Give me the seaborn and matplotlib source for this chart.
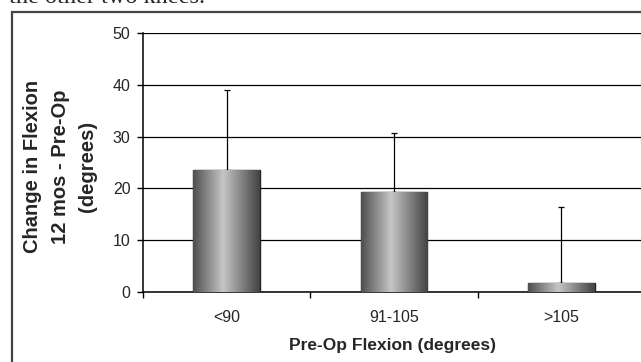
import numpy as np
import pandas as pd
import matplotlib
matplotlib.use("Agg")
import matplotlib.pyplot as plt
from matplotlib.colors import LinearSegmentedColormap
import seaborn as sns

# values
groups = ["<90", "91-105", ">105"]
mean_change = [23.6, 19.3, 1.8]
upper_err = [15.4, 11.3, 14.7]
y_ticks = [0, 10, 20, 30, 40, 50]


def gradient_bars(ax, cmap):
    grad = np.linspace(0, 1, 256).reshape(1, -1)
    for bar in ax.patches:
        x0, y0 = bar.get_x(), bar.get_y()
        w, h = bar.get_width(), bar.get_height()
        im = ax.imshow(grad, cmap=cmap, aspect="auto", zorder=bar.get_zorder(),
                       extent=[x0, x0 + w, y0, y0 + h], interpolation="bicubic")
        im.set_clip_path(bar)
        bar.set_facecolor("none")


def main():
    sns.set_style("white")
    plt.rcParams["font.family"] = ["Liberation Sans", "DejaVu Sans"]

    df = pd.DataFrame({"group": groups, "change": mean_change})

    fig = plt.figure(figsize=(6.41, 3.62), dpi=100)
    ax = fig.add_axes([143 / 641, 70 / 362, 502 / 641, 259 / 362])

    sns.barplot(data=df, x="group", y="change", order=groups, width=0.4,
                color="gray", edgecolor="#222222", linewidth=1.0, ax=ax, zorder=3)
    cmap = LinearSegmentedColormap.from_list(
        "cyl", [(0, "#4e4e4e"), (0.45, "#c6c6c6"), (1, "#424242")])
    gradient_bars(ax, cmap)

    ax.errorbar(range(len(groups)), mean_change, yerr=[[0] * len(groups), upper_err],
                fmt="none", ecolor="black", elinewidth=0.9, capsize=2, capthick=0.9,
                zorder=2)

    ax.set_xlim(-0.5, 2.5)
    ax.set_ylim(0, 50)
    ax.set_yticks(y_ticks)
    ax.yaxis.grid(True, color="black", linewidth=0.9)
    ax.set_axisbelow(True)
    for side in ["top", "right"]:
        ax.spines[side].set_visible(False)
    for side in ["left", "bottom"]:
        ax.spines[side].set_color("black")
        ax.spines[side].set_linewidth(1.1)

    ax.set_xticks([-0.5, 0.5, 1.5, 2.5], minor=True)
    ax.tick_params(axis="x", which="major", length=0, pad=13, labelsize=11.5)
    ax.tick_params(axis="x", which="minor", length=4, width=1, color="black",
                   direction="out", bottom=True)
    ax.tick_params(axis="y", length=4, width=1, color="black", direction="out",
                   left=True, pad=5, labelsize=11.5)

    ax.set_xlabel("Pre-Op Flexion (degrees)", fontsize=12.5, fontweight="bold",
                  va="center")
    ax.xaxis.set_label_coords(0.498, -0.205)
    ax.set_ylabel("Change in Flexion\n12 mos - Pre-Op\n(degrees)", fontsize=14.5,
                  fontweight="bold", linespacing=1.55, va="center")
    ax.yaxis.set_label_coords(-0.165, 0.483)

    # outer chart frame and the caption text cut off at the top
    fig.patches.append(plt.Rectangle((12 / 641, -0.1), 1.2, (362 - 12) / 362 + 0.1,
                                     transform=fig.transFigure, fill=False,
                                     edgecolor="#444444", linewidth=1.6))
    fig.text(9 / 641, 1 - 3 / 362, "the other two knees.", fontsize=17.5,
             family=["Liberation Serif", "DejaVu Serif"], va="baseline")

    fig.savefig("out.png", dpi=100)
    plt.close(fig)


if __name__ == "__main__":
    main()
